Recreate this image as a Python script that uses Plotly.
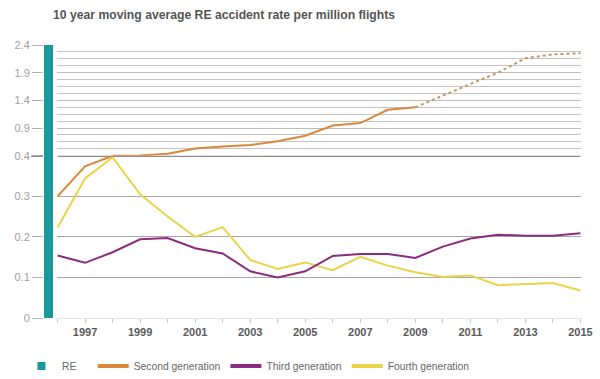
import plotly.graph_objects as go

# ---------------- data ----------------
YEARS = list(range(1996, 2016))
YEAR_LABELS = [str(y) if y % 2 == 1 else "" for y in YEARS]

SECOND_GEN = [0.30, 0.374, 0.40, 0.405, 0.436, 0.53, 0.567, 0.592, 0.66, 0.76,
              0.945, 0.99, 1.23, 1.275, 1.49, 1.695, 1.90, 2.16, 2.23, 2.25]
SECOND_GEN_LAST_ACTUAL = 2009  # later years are projected (dotted)
THIRD_GEN = [0.154, 0.136, 0.162, 0.194, 0.197, 0.172, 0.159, 0.115, 0.100, 0.115,
             0.153, 0.158, 0.158, 0.148, 0.176, 0.196, 0.205, 0.203, 0.203, 0.209]
FOURTH_GEN = [0.223, 0.344, 0.396, 0.305, 0.250, 0.200, 0.224, 0.143, 0.121, 0.137,
              0.118, 0.151, 0.129, 0.113, 0.101, 0.105, 0.081, 0.083, 0.086, 0.068]

AXIS_BREAK = 0.4
Y_MAX = 2.4
LOWER_TICKS = [0, 0.1, 0.2, 0.3]
LOWER_TICK_LABELS = ["0", "0.1", "0.2", "0.3"]
UPPER_TICKS = [0.4, 0.9, 1.4, 1.9, 2.4]
UPPER_TICK_LABELS = ["0.4", "0.9", "1.4", "1.9", "2.4"]
UPPER_MINOR_STEP = 0.125

TITLE = "10 year moving average RE accident rate per million flights"
SERIES_NAMES = ["RE", "Second generation", "Third generation", "Fourth generation"]

# ---------------- styles ----------------
TEAL = "#19999c"
ORANGE = "#d9883c"
ORANGE_DOT = "#c9955e"
PURPLE = "#8a2d80"
YELLOW = "#e8d447"
FONT = "Liberation Sans"

# split second generation across the broken axis
first_upper = next(i for i, v in enumerate(SECOND_GEN) if v >= AXIS_BREAK)
last_actual = YEARS.index(SECOND_GEN_LAST_ACTUAL)

fig = go.Figure()

# lower panel (0 - 0.4)
fig.add_trace(go.Scatter(x=YEARS, y=FOURTH_GEN, mode="lines",
                         line=dict(color=YELLOW, width=2), showlegend=False,
                         xaxis="x", yaxis="y"))
fig.add_trace(go.Scatter(x=YEARS, y=THIRD_GEN, mode="lines",
                         line=dict(color=PURPLE, width=2), showlegend=False,
                         xaxis="x", yaxis="y"))
fig.add_trace(go.Scatter(x=YEARS[:first_upper + 1], y=SECOND_GEN[:first_upper + 1],
                         mode="lines", line=dict(color=ORANGE, width=2),
                         showlegend=False, xaxis="x", yaxis="y"))
# upper panel (0.4 - 2.4)
fig.add_trace(go.Scatter(x=YEARS[first_upper:last_actual + 1],
                         y=SECOND_GEN[first_upper:last_actual + 1],
                         mode="lines", line=dict(color=ORANGE, width=2),
                         showlegend=False, xaxis="x", yaxis="y2"))
fig.add_trace(go.Scatter(x=YEARS[last_actual:], y=SECOND_GEN[last_actual:],
                         mode="lines", line=dict(color=ORANGE_DOT, width=2, dash="dot"),
                         showlegend=False, xaxis="x", yaxis="y2"))

# legend entries
fig.add_trace(go.Scatter(x=[None], y=[None], mode="markers",
                         name=SERIES_NAMES[0] + "\u00a0" * 4,
                         marker=dict(symbol="square", size=8, color=TEAL)))
for name, col in zip(SERIES_NAMES[1:], [ORANGE, PURPLE, YELLOW]):
    fig.add_trace(go.Scatter(x=[None], y=[None], mode="lines", name=name,
                             line=dict(color=col, width=4)))

W, H = 600, 379
ML, MR, MT, MB = 43, 19, 45, 61
plot_w = W - ML - MR
plot_h = H - MT - MB
x_start = 14 / plot_w
break_frac = 162.3 / plot_h

tick_font = dict(family=FONT, size=11, color="#a0a0a0")

fig.update_layout(
    width=W, height=H,
    margin=dict(l=ML, r=MR, t=MT, b=MB, autoexpand=False),
    paper_bgcolor="white", plot_bgcolor="white",
    title=dict(text=TITLE, x=53 / W, xanchor="left", y=1 - 15 / H, yanchor="middle",
               font=dict(family=FONT, size=12.2, color="#555555", weight="bold")),
    xaxis=dict(domain=[x_start, 1], range=[YEARS[0] - 0.02, YEARS[-1] + 0.02],
               tickmode="array", tickvals=YEARS, ticktext=YEAR_LABELS,
               ticks="outside", ticklen=4, tickcolor="#c8c8c8", showgrid=False,
               zeroline=False, showline=True, linecolor="#e4e4e4", linewidth=1,
               tickfont=dict(family=FONT, size=11, color="#5a5a5a", weight="bold")),
    yaxis=dict(domain=[0, break_frac], range=[0, AXIS_BREAK], anchor="free", position=0,
               tickmode="array", tickvals=LOWER_TICKS, ticktext=LOWER_TICK_LABELS,
               ticks="outside", ticklen=11, tickcolor="#b5b5b5",
               showgrid=True, gridcolor="#a8a8a8", gridwidth=1, zeroline=False,
               showline=False, tickfont=tick_font),
    yaxis2=dict(domain=[break_frac, 1], range=[AXIS_BREAK, Y_MAX], anchor="free", position=0,
                tickmode="array", tickvals=UPPER_TICKS, ticktext=UPPER_TICK_LABELS,
                ticks="outside", ticklen=11, tickcolor="#b5b5b5",
                showgrid=True, gridcolor="#bdbdbd", gridwidth=1, zeroline=False,
                showline=False, tickfont=tick_font,
                minor=dict(tickmode="linear", tick0=AXIS_BREAK, dtick=UPPER_MINOR_STEP,
                           showgrid=True, gridcolor="#c4c4c4", gridwidth=1, ticks="")),
    legend=dict(orientation="h", x=-0.041, xanchor="left", y=-0.176, yanchor="middle",
                font=dict(family=FONT, size=10.3, color="#666666"),
                itemwidth=31, tracegroupgap=0, bgcolor="rgba(0,0,0,0)"),
    shapes=[
        # RE bar spanning the full chart height
        dict(type="rect", xref="paper", yref="paper", x0=1 / plot_w, x1=10 / plot_w,
             y0=0, y1=1, fillcolor=TEAL, line=dict(width=0), layer="above"),
        # thick line marking the axis break
        dict(type="line", xref="x", yref="y", x0=YEARS[0], x1=YEARS[-1],
             y0=AXIS_BREAK, y1=AXIS_BREAK, line=dict(color="#8c8c8c", width=2.5),
             layer="below"),
        dict(type="line", xref="paper", yref="y", x0=-12 / plot_w, x1=0,
             y0=AXIS_BREAK, y1=AXIS_BREAK, line=dict(color="#8c8c8c", width=2.5)),
    ],
)

fig.write_html("out.html", config={"displayModeBar": False},
               post_script="document.body.style.margin='0';")
